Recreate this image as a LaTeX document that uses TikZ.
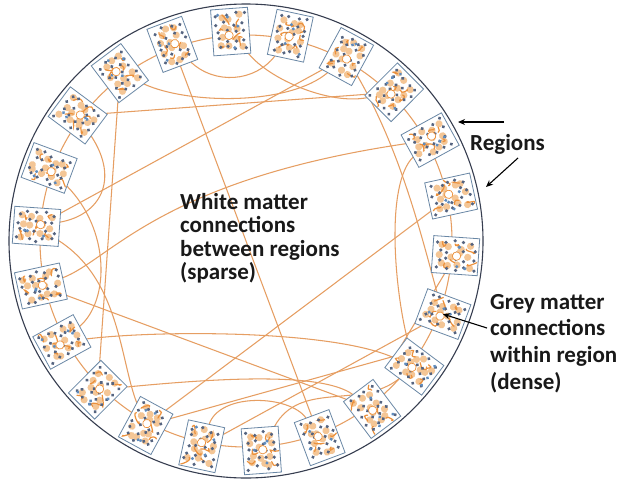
\documentclass[tikz,border=0pt]{standalone}
\usepackage{fontspec}
\setmainfont{Carlito}
\usetikzlibrary{calc,arrows.meta}
\pgfdeclarelayer{bg}
\pgfsetlayers{bg,main}
\definecolor{wmc}{RGB}{230,158,98}
\definecolor{boxc}{RGB}{105,135,165}
\definecolor{sqc}{RGB}{236,145,60}
\definecolor{patchc}{RGB}{244,198,150}
\definecolor{dotc}{RGB}{85,100,128}
\definecolor{dotb}{RGB}{95,140,190}
\definecolor{rimc}{RGB}{55,62,80}
\definecolor{txtc}{RGB}{25,25,25}
\begin{document}
\begin{tikzpicture}[x=1pt,y=-1pt,
  wm/.style={draw=wmc, line width=1.05pt},
  sq/.style={draw=sqc, line width=1.2pt, line cap=round},
  regionbox/.style={shape=rectangle, draw=boxc, fill=white, line width=0.8pt,
    minimum width=46pt, minimum height=37pt, inner sep=0pt, outer sep=0pt},
  lbl/.style={font=\fontsize{23}{26}\selectfont\bfseries, text=txtc,
    anchor=base west, inner sep=0pt},
  pointer/.style={draw=black, line width=1.1pt, -{Stealth[length=7pt,width=6pt]}}
]
\useasboundingbox (0,0) rectangle (621,483);
\coordinate (C) at (246,241);
\pgfmathsetseed{11}
% regions
\foreach \k in {0,...,21} {
  \pgfmathsetmacro\ang{184+16.3636*\k}
  \node[regionbox, rotate=-\ang] (r\k) at ($(C)+(\ang:210)$) {};
  \begin{scope}[shift={(r\k.center)}, rotate=-\ang]
    \clip (-22,-17.5) rectangle (22,17.5);
    \foreach \u in {-14,-5,5,14} \foreach \v in {-9,0,9}
      \fill[patchc] ({\u+3*rand},{\v+3*rand}) circle (3.6pt);
    \foreach \u in {-13,0,13} \foreach \v in {-8,8}
      \draw[sq] ({\u+3*rand},{\v+3*rand}) .. controls +({7*rand},{7*rand}) and +({7*rand},{7*rand}) .. +({9*rand},{8*rand});
    \foreach \u in {-17,-8.5,0,8.5,17} \foreach \v in {-13,-4.5,4.5,13}
      \fill[dotc] ({\u+2.5*rand},{\v+2.2*rand}) circle (1.8pt);
    \foreach \j in {1,...,4} \fill[dotb] ({18*rand},{14*rand}) circle (1.7pt);
    \filldraw[fill=white, draw=sqc, line width=0.7pt] ({4*rand},{3*rand}) circle (4.2pt);
  \end{scope}
}
\draw[rimc, line width=1.1pt] (C) circle[radius=237pt];
% connections
\coordinate (kink) at (395,356);
\begin{pgfonlayer}{bg}
\fill[white] (0,0) rectangle (621,483);
\draw[wm] (C) circle[radius=206pt];
\draw[wm] (r4) -- (r15);
\draw[wm] (r3) -- (r19);
\draw[wm] (r2) -- (r8);
\draw[wm] (r0) -- (r7);
\draw[wm] (r21) -- (r14);
\draw[wm] (r18) -- (r10);
\draw[wm] (r17) -- (r12);
\draw[wm] (r18) -- (kink) -- (r11);
\draw[wm] (r4) .. controls (215,85) and (255,82) .. (r6);
\draw[wm] (r5) .. controls (270,80) and (330,105) .. (r8);
\draw[wm] (r3) .. controls (190,105) and (290,105) .. (r7);
\draw[wm] (r7) .. controls (400,150) and (420,230) .. (r12);
\draw[wm] (r9) .. controls (385,185) and (395,290) .. (r13);
\draw[wm] (r1) .. controls (110,230) and (110,300) .. (r20);
\draw[wm] (r2) .. controls (120,180) and (100,215) .. (r0);
\draw[wm] (r0) .. controls (120,280) and (120,360) .. (r18);
\draw[wm] (r15) .. controls (290,395) and (220,392) .. (r17);
\draw[wm] (r14) .. controls (320,370) and (200,380) .. (r19);
\draw[wm] (r13) .. controls (360,410) and (300,380) .. (r16);
\draw[wm] (r20) .. controls (160,330) and (330,330) .. (r13);
\draw[wm] (r21) .. controls (110,260) and (160,180) .. (r9);
\end{pgfonlayer}
% labels
\node[lbl] (w1) at (180,209) {White matter};
\node[lbl] (w2) at (180,232.5) {connections};
\node[lbl] (w3) at (180,256) {between regions};
\node[lbl] (w4) at (180,279.5) {(sparse)};
\node[lbl] (g1) at (490,309) {Grey matter};
\node[lbl] (g2) at (490,335.5) {connections};
\node[lbl] (g3) at (490,362) {within region};
\node[lbl] (g4) at (490,389) {(dense)};
\node[lbl] (rg) at (470,150) {Regions};
\coordinate (a1s) at (504,122);
\coordinate (a1e) at (458,122);
\coordinate (a2s) at (518,158);
\coordinate (a2e) at (486,187);
\coordinate (a3s) at (487,328);
\draw[pointer] (a1s) -- (a1e);
\draw[pointer] (a2s) -- (a2e);
\draw[pointer] (a3s) -- (r12.center);
\end{tikzpicture}
\end{document}
